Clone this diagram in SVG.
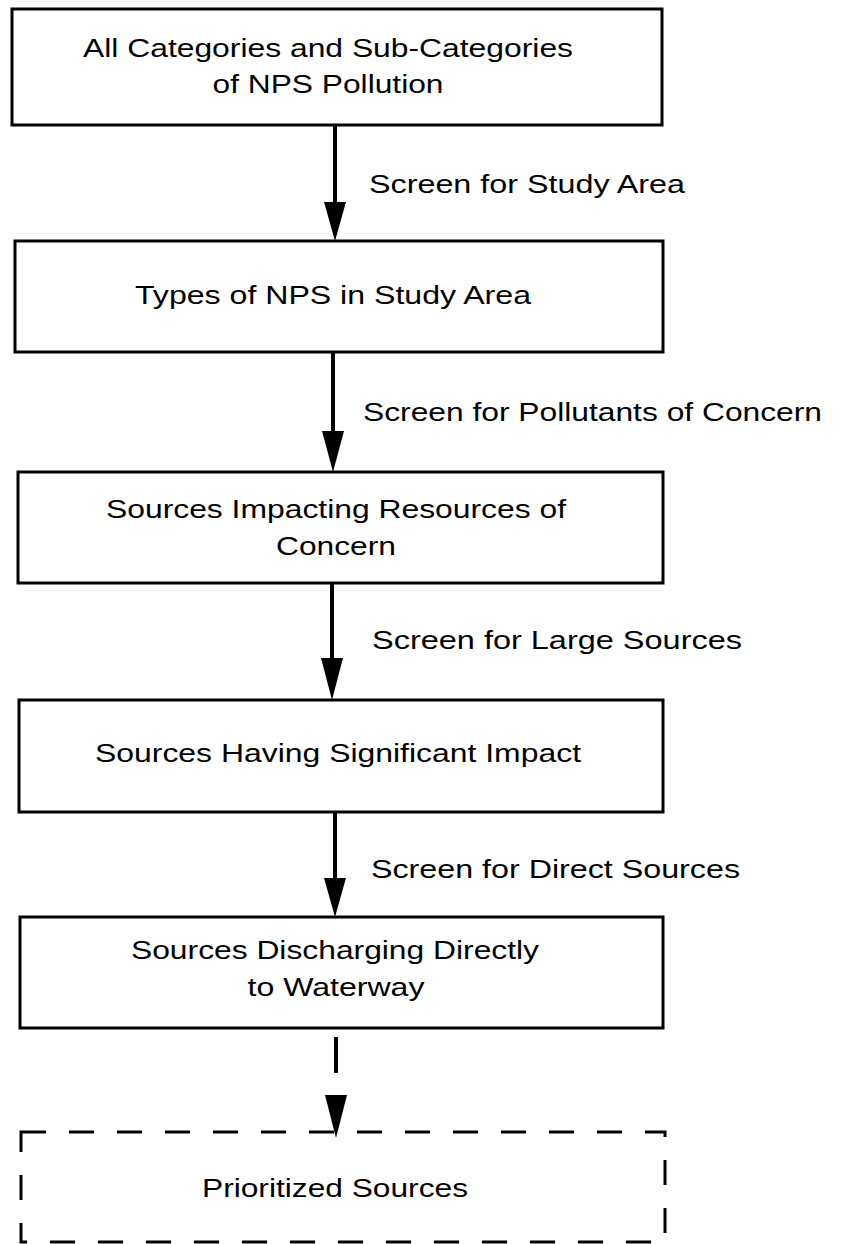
<svg xmlns="http://www.w3.org/2000/svg" width="842" height="1244" viewBox="0 0 842 1244">
<style>
.box{fill:#fff;stroke:#000;stroke-width:3}
.dbox{fill:#fff;stroke:#000;stroke-width:3;stroke-dasharray:25 23}
.t{font-family:"Liberation Sans",Arial,sans-serif;font-size:26px;fill:#000;text-anchor:middle}
.l{font-family:"Liberation Sans",Arial,sans-serif;font-size:26px;fill:#000}
.c{stroke:#000;stroke-width:4;fill:none}
.h{fill:#000}
</style>
<rect width="842" height="1244" fill="#fff"/>
<g id="n1">
<rect class="box" x="12" y="9" width="650" height="116"/>
<text class="t" x="328" y="57" textLength="490" lengthAdjust="spacingAndGlyphs">All Categories and Sub-Categories</text>
<text class="t" x="328" y="93" textLength="231" lengthAdjust="spacingAndGlyphs">of NPS Pollution</text>
</g>
<g id="n2">
<rect class="box" x="15" y="241" width="648" height="111"/>
<text class="t" x="333" y="304" textLength="396" lengthAdjust="spacingAndGlyphs">Types of NPS in Study Area</text>
</g>
<g id="n3">
<rect class="box" x="18" y="472" width="645" height="111"/>
<text class="t" x="336" y="518" textLength="460" lengthAdjust="spacingAndGlyphs">Sources Impacting Resources of</text>
<text class="t" x="336" y="555" textLength="120" lengthAdjust="spacingAndGlyphs">Concern</text>
</g>
<g id="n4">
<rect class="box" x="19" y="700" width="644" height="112"/>
<text class="t" x="338" y="762" textLength="486" lengthAdjust="spacingAndGlyphs">Sources Having Significant Impact</text>
</g>
<g id="n5">
<rect class="box" x="20" y="917" width="643" height="111"/>
<text class="t" x="335" y="959" textLength="408" lengthAdjust="spacingAndGlyphs">Sources Discharging Directly</text>
<text class="t" x="336" y="996" textLength="177" lengthAdjust="spacingAndGlyphs">to Waterway</text>
</g>
<g id="n6">
<rect class="dbox" x="21" y="1132" width="644" height="110"/>
<text class="t" x="335" y="1197" textLength="266" lengthAdjust="spacingAndGlyphs">Prioritized Sources</text>
</g>
<g id="connectors">
<line class="c" x1="335" y1="125" x2="335" y2="205"/>
<polygon class="h" points="324,202 346,202 335,241"/>
<text class="l" x="369" y="193" textLength="316" lengthAdjust="spacingAndGlyphs">Screen for Study Area</text>
<line class="c" x1="333" y1="352" x2="333" y2="434"/>
<polygon class="h" points="322,431 344,431 333,472"/>
<text class="l" x="363" y="421" textLength="459" lengthAdjust="spacingAndGlyphs">Screen for Pollutants of Concern</text>
<line class="c" x1="332" y1="583" x2="332" y2="661"/>
<polygon class="h" points="321,658 343,658 332,700"/>
<text class="l" x="372" y="649" textLength="370" lengthAdjust="spacingAndGlyphs">Screen for Large Sources</text>
<line class="c" x1="335" y1="812" x2="335" y2="881"/>
<polygon class="h" points="324,878 346,878 335,917"/>
<text class="l" x="371" y="878" textLength="369" lengthAdjust="spacingAndGlyphs">Screen for Direct Sources</text>
<line class="c" x1="336" y1="1037" x2="336" y2="1073"/>
<polygon class="h" points="325,1095 347,1095 336,1138"/>
</g>
</svg>
